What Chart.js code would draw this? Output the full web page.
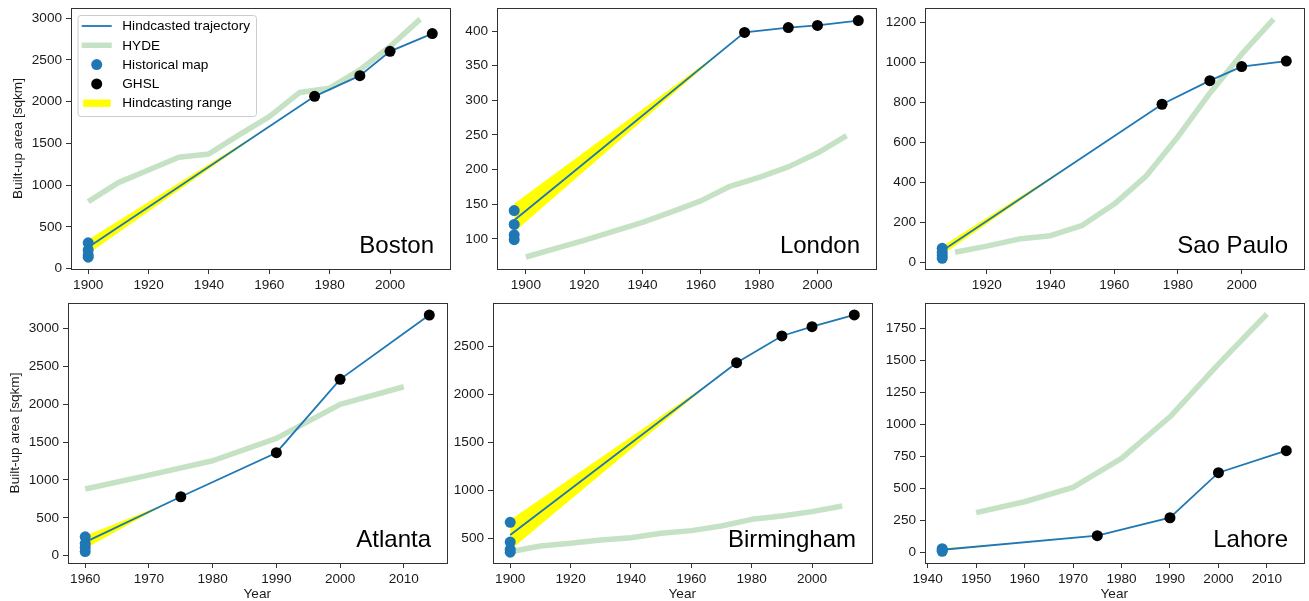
<!DOCTYPE html>
<html>
<head>
<meta charset="utf-8">
<title>Built-up area trajectories</title>
<script src="https://cdn.jsdelivr.net/npm/chart.js@4.4.1/dist/chart.umd.min.js"></script>
<style>
  html, body { margin: 0; padding: 0; background: #fff; overflow: hidden; width: 1309px; height: 601px; }
  canvas { position: absolute; }
</style>
</head>
<body>
<canvas id="boston"></canvas>
<canvas id="london"></canvas>
<canvas id="saopaulo"></canvas>
<canvas id="atlanta"></canvas>
<canvas id="birmingham"></canvas>
<canvas id="lahore"></canvas>
<script>
// GHSL epochs shared by every city
const ghslYears = [1975, 1990, 2000, 2014];

// Boston
const bostonHistYear = 1900;
const bostonHist = [310, 225, 165, 138];
const bostonTrajStart = 258;
const bostonGhsl = [2065, 2312, 2604, 2816];
const bostonHydeYears = [1900, 1910, 1920, 1930, 1940, 1950, 1960, 1970, 1980, 1990, 2000, 2010];
const bostonHyde = [803, 1031, 1183, 1335, 1375, 1603, 1822, 2110, 2162, 2382, 2662, 2990];
const bostonBandYears = [1900, 1962];
const bostonBandUpper = [345, 1751];
const bostonBandLower = [180, 1751];
const bostonXTicks = [1900, 1920, 1940, 1960, 1980, 2000];
const bostonYTicks = [0, 500, 1000, 1500, 2000, 2500, 3000];

// London
const londonHistYear = 1896;
const londonHist = [141, 121, 106, 99];
const londonTrajStart = 127;
const londonGhsl = [398, 405, 408, 415];
const londonHydeYears = [1900, 1910, 1920, 1930, 1940, 1950, 1960, 1970, 1980, 1990, 2000, 2010];
const londonHyde = [74, 86, 98, 111, 124, 139, 155, 176, 189, 204, 224, 249];
const londonBandYears = [1896, 1969];
const londonBandUpper = [151, 377];
const londonBandLower = [110, 377];
const londonXTicks = [1900, 1920, 1940, 1960, 1980, 2000];
const londonYTicks = [100, 150, 200, 250, 300, 350, 400];

// Sao Paulo
const saoPauloHistYear = 1906;
const saoPauloHist = [72, 52, 36, 22];
const saoPauloTrajStart = 60;
const saoPauloGhsl = [792, 910, 980, 1008];
const saoPauloHydeYears = [1910, 1920, 1930, 1940, 1950, 1960, 1970, 1980, 1990, 2000, 2010];
const saoPauloHyde = [52, 83, 118, 135, 187, 293, 433, 630, 847, 1042, 1217];
const saoPauloBandYears = [1906, 1952];
const saoPauloBandUpper = [82, 548];
const saoPauloBandLower = [40, 548];
const saoPauloXTicks = [1920, 1940, 1960, 1980, 2000];
const saoPauloYTicks = [0, 200, 400, 600, 800, 1000, 1200];

// Atlanta
const atlantaHistYear = 1960;
const atlantaHist = [250, 160, 110, 55];
const atlantaTrajStart = 180;
const atlantaGhsl = [778, 1359, 2327, 3175];
const atlantaHydeYears = [1960, 1970, 1980, 1990, 2000, 2010];
const atlantaHyde = [880, 1064, 1253, 1548, 1997, 2229];
const atlantaBandYears = [1960, 1973];
const atlantaBandUpper = [265, 698];
const atlantaBandLower = [95, 698];
const atlantaXTicks = [1960, 1970, 1980, 1990, 2000, 2010];
const atlantaYTicks = [0, 500, 1000, 1500, 2000, 2500, 3000];

// Birmingham
const birminghamHistYear = 1900;
const birminghamHist = [667, 460, 385, 355];
const birminghamTrajStart = 534;
const birminghamGhsl = [2333, 2612, 2709, 2831];
const birminghamHydeYears = [1900, 1910, 1920, 1930, 1940, 1950, 1960, 1970, 1980, 1990, 2000, 2010];
const birminghamHyde = [360, 420, 448, 482, 506, 552, 580, 628, 698, 733, 778, 837];
const birminghamBandYears = [1900, 1968];
const birminghamBandUpper = [690, 2165];
const birminghamBandLower = [378, 2165];
const birminghamXTicks = [1900, 1920, 1940, 1960, 1980, 2000];
const birminghamYTicks = [500, 1000, 1500, 2000, 2500];

// Lahore
const lahoreHistYear = 1943;
const lahoreHist = [28, 18, 8];
const lahoreTrajStart = 20;
const lahoreGhsl = [130, 270, 622, 794];
const lahoreHydeYears = [1950, 1960, 1970, 1980, 1990, 2000, 2010];
const lahoreHyde = [310, 395, 508, 734, 1059, 1471, 1862];
const lahoreBandYears = [1943, 1960];
const lahoreBandUpper = [30, 78];
const lahoreBandLower = [12, 78];
const lahoreXTicks = [1940, 1950, 1960, 1970, 1980, 1990, 2000, 2010];
const lahoreYTicks = [0, 250, 500, 750, 1000, 1250, 1500, 1750];

// ---- styling ----
const FONT_FAMILY = '"Liberation Sans", Arial, "DejaVu Sans", sans-serif';
const TEXT_COLOR = '#1a1a1a';
const AXIS_COLOR = '#333333';
const BLUE = '#1f77b4';
const HYDE_GREEN = '#c5e2c5';
const YELLOW = '#ffff00';
const SMALL = 13.6;

Chart.defaults.font.family = FONT_FAMILY;
Chart.defaults.color = TEXT_COLOR;

const Y_AXIS_W = 60, X_AXIS_H = 38, PAD_TOP = 8, PAD_RIGHT = 2;

const panels = [
  { id: 'boston', name: 'Boston', area: [71, 8, 382, 261], x: [1894.3, 2019.7], y: [-4, 3123],
    histYear: bostonHistYear, hist: bostonHist, trajStart: bostonTrajStart, ghsl: bostonGhsl,
    hydeYears: bostonHydeYears, hyde: bostonHyde, bandYears: bostonBandYears,
    bandUpper: bostonBandUpper, bandLower: bostonBandLower,
    xTicks: bostonXTicks, yTicks: bostonYTicks, yTitle: true, xTitle: false, legend: true },
  { id: 'london', name: 'London', area: [497, 8, 382, 261], x: [1890.1, 2019.9], y: [56.7, 433.2],
    histYear: londonHistYear, hist: londonHist, trajStart: londonTrajStart, ghsl: londonGhsl,
    hydeYears: londonHydeYears, hyde: londonHyde, bandYears: londonBandYears,
    bandUpper: londonBandUpper, bandLower: londonBandLower,
    xTicks: londonXTicks, yTicks: londonYTicks, yTitle: false, xTitle: false },
  { id: 'saopaulo', name: 'Sao Paulo', area: [925, 8, 382, 261], x: [1900.6, 2019.4], y: [-31.5, 1273],
    histYear: saoPauloHistYear, hist: saoPauloHist, trajStart: saoPauloTrajStart, ghsl: saoPauloGhsl,
    hydeYears: saoPauloHydeYears, hyde: saoPauloHyde, bandYears: saoPauloBandYears,
    bandUpper: saoPauloBandUpper, bandLower: saoPauloBandLower,
    xTicks: saoPauloXTicks, yTicks: saoPauloYTicks, yTitle: false, xTitle: false },
  { id: 'atlanta', name: 'Atlanta', area: [68, 303, 382, 260], x: [1957.3, 2016.7], y: [-96, 3334],
    histYear: atlantaHistYear, hist: atlantaHist, trajStart: atlantaTrajStart, ghsl: atlantaGhsl,
    hydeYears: atlantaHydeYears, hyde: atlantaHyde, bandYears: atlantaBandYears,
    bandUpper: atlantaBandUpper, bandLower: atlantaBandLower,
    xTicks: atlantaXTicks, yTicks: atlantaYTicks, yTitle: true, xTitle: true },
  { id: 'birmingham', name: 'Birmingham', area: [493, 303, 382, 260], x: [1894.3, 2019.7], y: [242, 2956],
    histYear: birminghamHistYear, hist: birminghamHist, trajStart: birminghamTrajStart, ghsl: birminghamGhsl,
    hydeYears: birminghamHydeYears, hyde: birminghamHyde, bandYears: birminghamBandYears,
    bandUpper: birminghamBandUpper, bandLower: birminghamBandLower,
    xTicks: birminghamXTicks, yTicks: birminghamYTicks, yTitle: false, xTitle: true },
  { id: 'lahore', name: 'Lahore', area: [925, 303, 382, 260], x: [1939.45, 2017.55], y: [-83.6, 1948],
    histYear: lahoreHistYear, hist: lahoreHist, trajStart: lahoreTrajStart, ghsl: lahoreGhsl,
    hydeYears: lahoreHydeYears, hyde: lahoreHyde, bandYears: lahoreBandYears,
    bandUpper: lahoreBandUpper, bandLower: lahoreBandLower,
    xTicks: lahoreXTicks, yTicks: lahoreYTicks, yTitle: false, xTitle: true }
];

// axes box drawn on all four sides
const framePlugin = {
  id: 'frame',
  afterDatasetsDraw(chart) {
    const { ctx, chartArea: a } = chart;
    ctx.save();
    ctx.strokeStyle = AXIS_COLOR;
    ctx.lineWidth = 1;
    ctx.strokeRect(Math.round(a.left) + 0.5, Math.round(a.top) + 0.5,
                   Math.round(a.right - a.left), Math.round(a.bottom - a.top));
    ctx.restore();
  }
};

// city name in the lower right corner of each axes
const cityLabelPlugin = {
  id: 'cityLabel',
  afterDatasetsDraw(chart, args, opts) {
    const { ctx, chartArea: a } = chart;
    ctx.save();
    ctx.font = '24px ' + FONT_FAMILY;
    ctx.fillStyle = '#000';
    ctx.textAlign = 'right';
    ctx.textBaseline = 'alphabetic';
    ctx.fillText(opts.text, a.right - 15.5, a.bottom - 16);
    ctx.restore();
  }
};

// boxed legend drawn inside the upper-left corner of the axes
const innerLegendPlugin = {
  id: 'innerLegend',
  afterDatasetsDraw(chart, args, opts) {
    if (!opts.show) return;
    const { ctx, chartArea: a } = chart;
    const items = chart.data.datasets.filter(d => !d.label.startsWith('_'));
    const bx = a.left + 6.5, by = a.top + 7, bw = 178.5, bh = 101;
    ctx.save();
    ctx.beginPath();
    ctx.roundRect(bx + 0.5, by + 0.5, bw, bh, 3);
    ctx.fillStyle = 'rgba(255,255,255,0.8)';
    ctx.fill();
    ctx.strokeStyle = '#cccccc';
    ctx.lineWidth = 1;
    ctx.stroke();
    ctx.font = SMALL + 'px ' + FONT_FAMILY;
    ctx.textBaseline = 'middle';
    ctx.textAlign = 'left';
    const hx0 = a.left + 10.7, hx1 = a.left + 40.7, tx = a.left + 51.3;
    items.forEach((d, i) => {
      const cy = a.top + 18 + i * 19.3;
      if (d.showLine === false) {
        ctx.beginPath();
        ctx.arc((hx0 + hx1) / 2, cy, d.pointRadius, 0, Math.PI * 2);
        ctx.fillStyle = d.pointBackgroundColor;
        ctx.fill();
      } else if (d.fill) {
        ctx.fillStyle = d.backgroundColor;
        ctx.fillRect(hx0 + 1.5, cy - 3.7, 27.5, 7.4);
      } else {
        ctx.beginPath();
        ctx.moveTo(hx0, cy);
        ctx.lineTo(hx1, cy);
        ctx.strokeStyle = d.borderColor;
        ctx.lineWidth = d.borderWidth;
        ctx.lineCap = 'butt';
        ctx.stroke();
      }
      ctx.fillStyle = '#000';
      ctx.fillText(d.label, tx, cy + 0.5);
    });
    ctx.restore();
  }
};

const pts = (xs, ys) => ys.map((y, i) => ({ x: xs[i], y }));

function axisOptions(p, horizontal) {
  const tickVals = horizontal ? p.xTicks : p.yTicks;
  const range = horizontal ? p.x : p.y;
  const showTitle = horizontal ? p.xTitle : p.yTitle;
  return {
    type: 'linear',
    position: horizontal ? 'bottom' : 'left',
    min: range[0],
    max: range[1],
    afterBuildTicks: s => { s.ticks = tickVals.map(v => ({ value: v })); },
    afterFit: s => {
      if (horizontal) s.height = X_AXIS_H; else s.width = Y_AXIS_W;
      s.paddingLeft = 0; s.paddingRight = 0; s.paddingTop = 0; s.paddingBottom = 0;
    },
    ticks: {
      autoSkip: false,
      maxRotation: 0,
      minRotation: 0,
      padding: horizontal ? 3 : 4,
      color: TEXT_COLOR,
      font: { size: SMALL, family: FONT_FAMILY },
      callback: v => String(v)
    },
    grid: {
      display: true,
      drawOnChartArea: false,
      drawTicks: true,
      tickLength: 5,
      tickWidth: 1,
      tickColor: AXIS_COLOR
    },
    border: { display: false },
    title: {
      display: showTitle,
      text: horizontal ? 'Year' : 'Built-up area [sqkm]',
      color: TEXT_COLOR,
      font: { size: SMALL, family: FONT_FAMILY, lineHeight: 1 },
      padding: { top: 0, bottom: 0 }
    }
  };
}

function makeChart(p) {
  const cv = document.getElementById(p.id);
  const [al, at, aw, ah] = p.area;
  cv.width = Y_AXIS_W + aw + PAD_RIGHT;
  cv.height = PAD_TOP + ah + X_AXIS_H;
  cv.style.left = (al - Y_AXIS_W) + 'px';
  cv.style.top = (at - PAD_TOP) + 'px';

  const datasets = [
    { label: 'Hindcasted trajectory',
      data: pts([p.histYear, ...ghslYears], [p.trajStart, ...p.ghsl]),
      borderColor: BLUE, borderWidth: 1.8, pointRadius: 0, fill: false, order: 3 },
    { label: 'HYDE',
      data: pts(p.hydeYears, p.hyde),
      borderColor: HYDE_GREEN, borderWidth: 5.5, pointRadius: 0, fill: false, order: 5,
      borderCapStyle: 'butt', borderJoinStyle: 'round' },
    { label: 'Historical map',
      data: p.hist.map(v => ({ x: p.histYear, y: v })),
      showLine: false, pointRadius: 5.5, pointBackgroundColor: BLUE, pointBorderWidth: 0,
      pointBorderColor: BLUE, order: 1 },
    { label: 'GHSL',
      data: pts(ghslYears, p.ghsl),
      showLine: false, pointRadius: 5.5, pointBackgroundColor: '#000', pointBorderWidth: 0,
      pointBorderColor: '#000', order: 2 },
    { label: 'Hindcasting range',
      data: pts(p.bandYears, p.bandUpper),
      borderColor: 'rgba(0,0,0,0)', borderWidth: 0, pointRadius: 0,
      backgroundColor: YELLOW, fill: '+1', order: 4 },
    { label: '_band_lower',
      data: pts(p.bandYears, p.bandLower),
      borderColor: 'rgba(0,0,0,0)', borderWidth: 0, pointRadius: 0, fill: false, order: 4 }
  ];

  return new Chart(cv, {
    type: 'line',
    data: { datasets },
    options: {
      responsive: false,
      animation: false,
      devicePixelRatio: 1,
      events: [],
      layout: { padding: { top: PAD_TOP, right: PAD_RIGHT, bottom: 0, left: 0 } },
      scales: { x: axisOptions(p, true), y: axisOptions(p, false) },
      plugins: {
        legend: { display: false },
        tooltip: { enabled: false },
        cityLabel: { text: p.name },
        innerLegend: { show: !!p.legend }
      }
    },
    plugins: [framePlugin, cityLabelPlugin, innerLegendPlugin]
  });
}

panels.forEach(makeChart);
</script>
</body>
</html>
